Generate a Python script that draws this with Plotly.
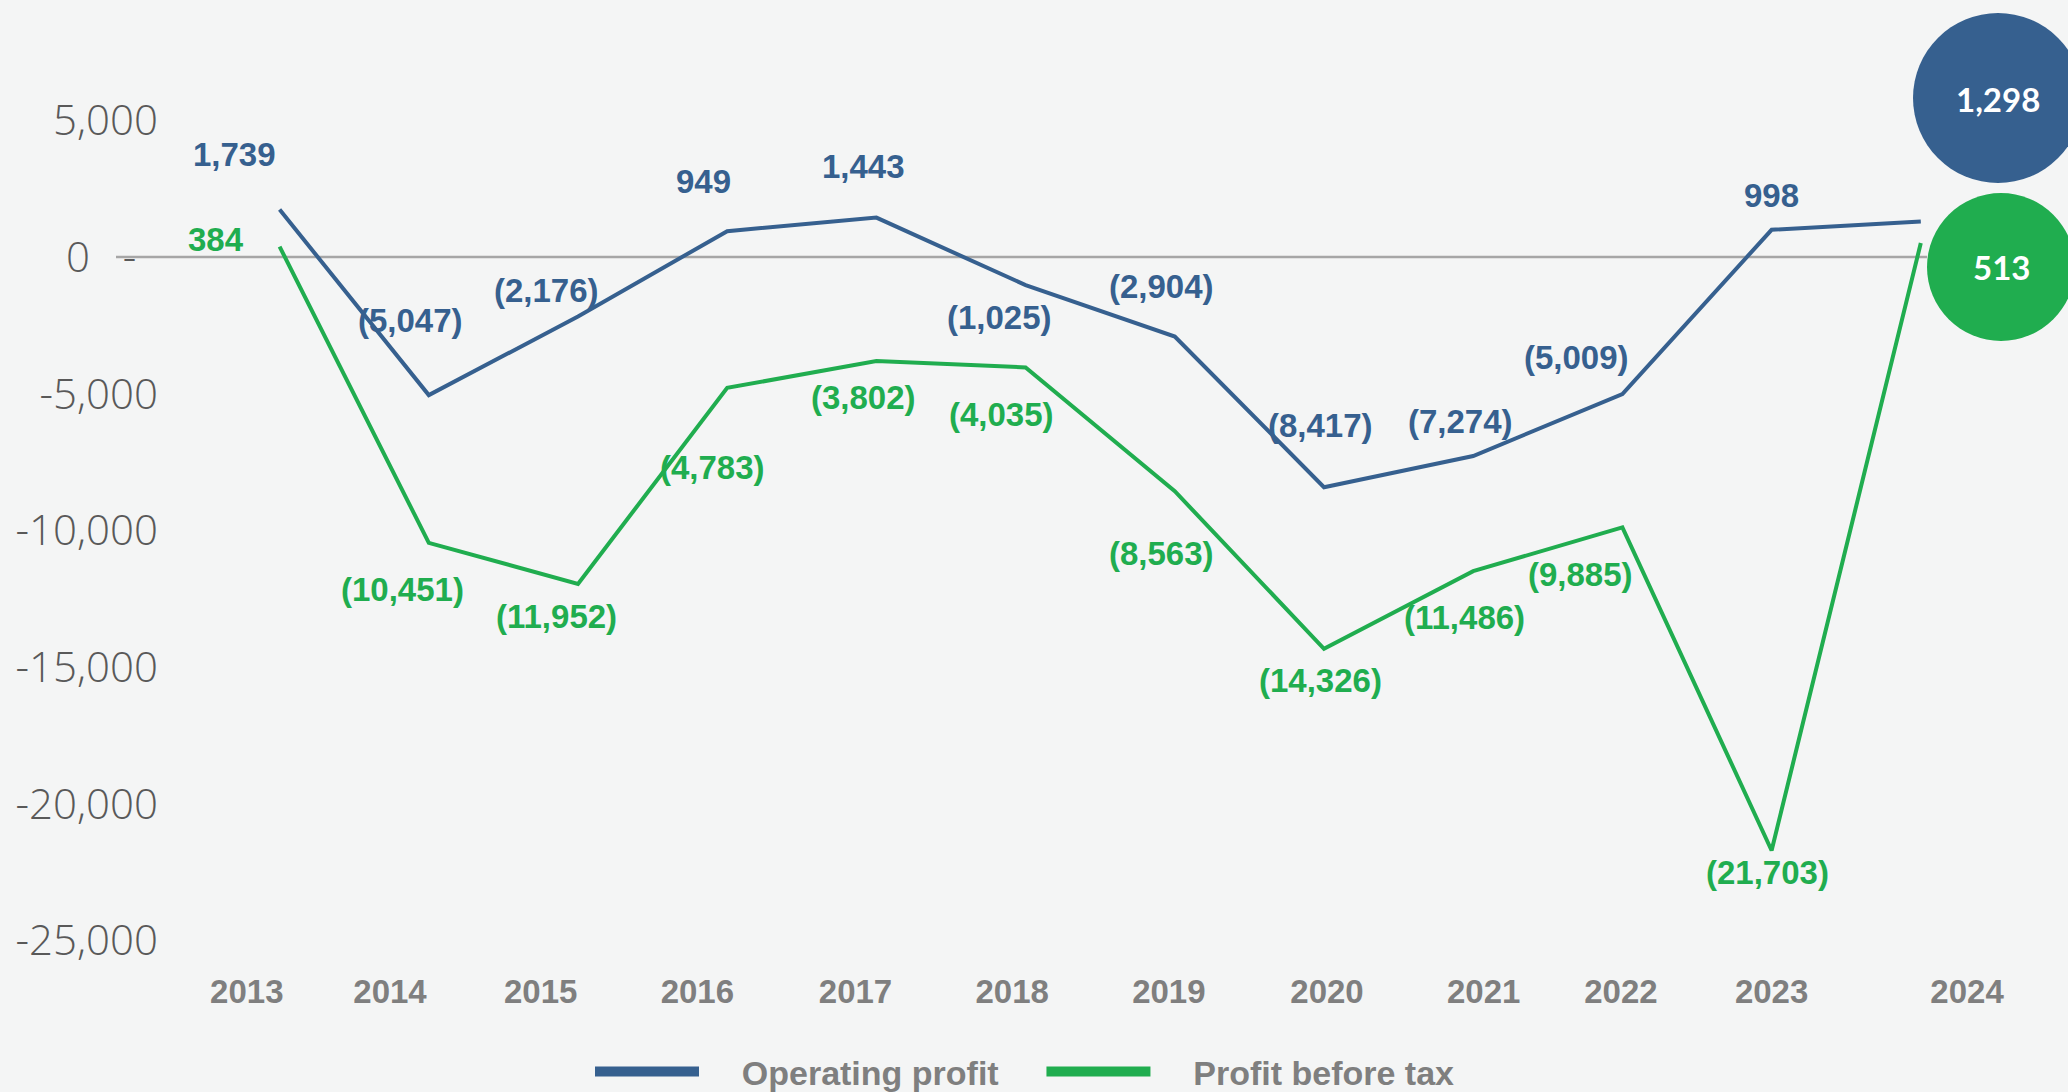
import plotly.graph_objects as go

years = ["2013", "2014", "2015", "2016", "2017", "2018", "2019", "2020", "2021", "2022", "2023", "2024"]
operating_profit = [1739, -5047, -2176, 949, 1443, -1025, -2904, -8417, -7274, -5009, 998, 1298]
profit_before_tax = [384, -10451, -11952, -4783, -3802, -4035, -8563, -14326, -11486, -9885, -21703, 513]
y_tick_vals = [5000, 0, -5000, -10000, -15000, -20000, -25000]
y_tick_text = ["5,000", "0\u00a0\u00a0\u00a0-\u00a0\u00a0", "-5,000", "-10,000", "-15,000", "-20,000", "-25,000"]

# layout-only tuning (pixel offsets of labels)
op_dx = [-45, -18, -32, -24, -13, -26, -13, -4, -13, -46, 0]
op_dy = [55, 75, 26, 50, 51, -32, 50, 62, 34, 37, 34]
pbt_dx = [-64, -26, -22, -15, -13, -24, -13, -4, -9, -42, -4]
pbt_dy = [7, -47, -33, -80, -36, -47, -62, -32, -46, -47, -22]
tick_offsets = [-0.22, -0.26, -0.25, -0.20, -0.14, -0.09, -0.04, 0.02, 0.07, -0.01, 0.0, 0.31]

BLUE = "#36608F"
GREEN = "#20AD4F"
FONT_B = "Liberation Sans, Arial, sans-serif"

L, R, T, B = 175, 0, 11, 124
W, H = 2068 - L - R, 1092 - T - B


def px_x(p):
    return (p - L) / W


def px_y(p):
    return (1092 - B - p) / H


x = list(range(len(years)))


def fmt(v):
    return f"({abs(v):,})" if v < 0 else f"{v:,}"


fig = go.Figure()
fig.add_trace(go.Scatter(x=x, y=operating_profit, mode="lines", line=dict(color=BLUE, width=4),
                         showlegend=False, name="Operating profit"))
fig.add_trace(go.Scatter(x=x, y=profit_before_tax, mode="lines", line=dict(color=GREEN, width=4),
                         showlegend=False, name="Profit before tax"))
# legend entries
NB = "\u00a0"
fig.add_trace(go.Scatter(x=[None], y=[None], mode="lines", line=dict(color=BLUE, width=10),
                         name=NB * 4 + "Operating profit" + NB * 4))
fig.add_trace(go.Scatter(x=[None], y=[None], mode="lines", line=dict(color=GREEN, width=10),
                         name=NB * 4 + "Profit before tax"))

annotations = []
for i in range(len(years) - 1):
    annotations.append(dict(x=x[i], y=operating_profit[i], text=fmt(operating_profit[i]),
                            showarrow=False, xshift=op_dx[i], yshift=op_dy[i],
                            font=dict(family=FONT_B, size=33, color=BLUE, weight="bold")))
    annotations.append(dict(x=x[i], y=profit_before_tax[i], text=fmt(profit_before_tax[i]),
                            showarrow=False, xshift=pbt_dx[i], yshift=pbt_dy[i],
                            font=dict(family=FONT_B, size=33, color=GREEN, weight="bold")))

# 2024 bubbles (pixel boxes on the page)
last = len(years) - 1
shapes = []
bubbles = [(operating_profit[last], BLUE, 1913, 2083, 13, 183, 1998, 99),
           (profit_before_tax[last], GREEN, 1927, 2075, 193, 341, 2001, 267)]
for val, col, x0, x1, y0, y1, cx, cy in bubbles:
    shapes.append(dict(type="circle", xref="paper", yref="paper",
                       x0=px_x(x0), x1=px_x(x1), y0=px_y(y1), y1=px_y(y0),
                       fillcolor=col, line=dict(width=0), layer="above"))
    annotations.append(dict(xref="paper", yref="paper", x=px_x(cx), y=px_y(cy), text=fmt(val),
                            showarrow=False, xanchor="center", yanchor="middle",
                            font=dict(family="Lato, Open Sans, sans-serif", size=33, color="white", weight="bold")))

# zero line
shapes.append(dict(type="line", xref="paper", yref="y", x0=px_x(116), x1=px_x(1927), y0=0, y1=0,
                   line=dict(color="#A6A6A6", width=2.5), layer="below"))

step = 149.2
x_lo = -(279.6 - L) / step
x_hi = x_lo + W / step

fig.update_layout(
    width=2068, height=1092,
    paper_bgcolor="#F4F5F5", plot_bgcolor="rgba(0,0,0,0)",
    margin=dict(l=L, r=R, t=T, b=B, autoexpand=False),
    xaxis=dict(range=[x_lo, x_hi], showgrid=False, zeroline=False, showline=False, automargin=False,
               tickvals=[x[i] + tick_offsets[i] for i in range(len(years))], ticktext=years,
               ticks="", ticklabelstandoff=1,
               tickfont=dict(family=FONT_B, size=33, color="#7F7F7F", weight="bold")),
    yaxis=dict(range=[-26000, 9000], showgrid=False, zeroline=False, showline=False, automargin=False,
               tickvals=y_tick_vals, ticktext=y_tick_text, ticks="", ticklabelstandoff=16,
               tickfont=dict(family="Open Sans, sans-serif", size=42, color="#595959", weight=300)),
    legend=dict(orientation="h", x=px_x(590), y=px_y(1072), xanchor="left", yanchor="middle",
                itemwidth=104, bgcolor="rgba(0,0,0,0)",
                font=dict(family=FONT_B, size=34, color="#7F7F7F", weight="bold")),
    annotations=annotations,
    shapes=shapes,
)

fig.write_html("out.html", config={"displayModeBar": False},
               post_script="document.body.style.margin='0';document.body.style.overflow='hidden';")
